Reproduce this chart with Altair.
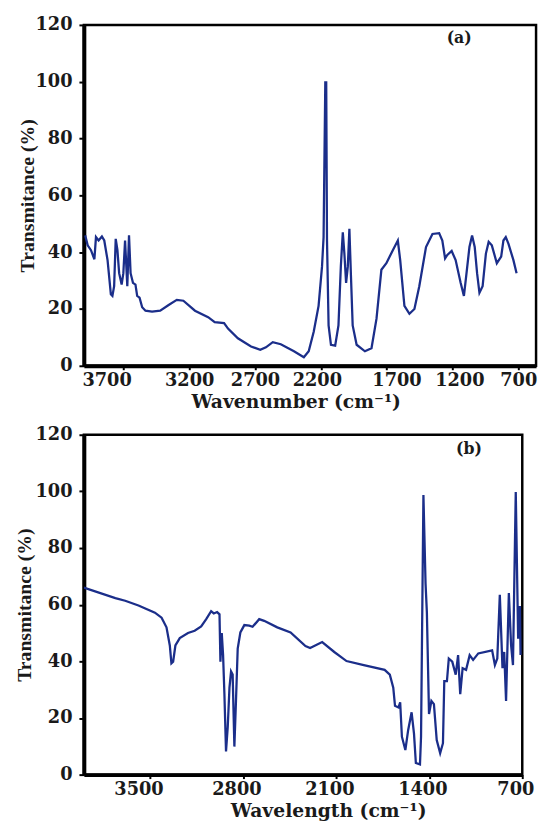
import altair as alt
import pandas as pd

# ---------------- Panel (a) ----------------
a_wavenumber = [3990, 3971, 3946, 3920, 3908, 3888, 3863, 3845, 3820, 3795, 3783, 3770,
                3758, 3745, 3732, 3713, 3700, 3687, 3670, 3657, 3645, 3627, 3608, 3595,
                3577, 3557, 3532, 3482, 3420, 3356, 3294, 3244, 3156, 3056, 3006, 2935,
                2905, 2830, 2730, 2660, 2617, 2565, 2504, 2404, 2329, 2292, 2254, 2217,
                2191, 2179, 2166, 2159, 2153, 2141, 2123, 2091, 2066, 2048, 2033, 2021,
                2008, 1995, 1983, 1971, 1958, 1928, 1865, 1815, 1777, 1740, 1702, 1653,
                1615, 1597, 1565, 1527, 1489, 1452, 1401, 1352, 1301, 1277, 1256, 1239,
                1206, 1176, 1138, 1113, 1096, 1071, 1051, 1031, 1013, 995, 971, 946,
                925, 901, 863, 830, 813, 795, 775, 737, 713]
a_transmittance = [45.9, 42.4, 40.7, 37.5, 45.3, 44.1, 45.5, 44.1, 37.2, 25.2, 24.6, 28.0,
                   44.7, 40.7, 32.6, 28.6, 32.6, 44.1, 28.0, 45.9, 32.6, 29.2, 28.6, 24.6,
                   24.0, 20.6, 19.4, 19.1, 19.4, 21.4, 23.2, 22.9, 19.4, 17.1, 15.4, 15.0,
                   13.1, 9.7, 6.8, 5.6, 6.5, 8.3, 7.6, 5.1, 3.0, 5.1, 12.0, 21.1,
                   34.9, 45.3, 99.8, 99.8, 44.1, 14.2, 7.4, 7.1, 14.2, 34.9, 47.0, 39.5,
                   29.2, 34.9, 48.2, 31.5, 14.2, 7.4, 5.1, 6.2, 16.6, 33.8, 36.1, 40.7,
                   44.1, 37.2, 21.1, 18.3, 20.0, 28.0, 41.8, 46.4, 46.7, 44.1, 37.8, 39.0,
                   40.4, 37.2, 29.2, 24.6, 31.5, 41.8, 45.9, 41.8, 32.6, 25.7, 28.0, 39.5,
                   43.6, 42.4, 36.1, 38.4, 44.1, 45.3, 43.0, 37.2, 32.6]
a_x_ticks = [3700, 3200, 2700, 2200, 1700, 1200, 700]

# ---------------- Panel (b) ----------------
b_wavenumber = [4000, 3763, 3689, 3589, 3465, 3415, 3378, 3353, 3341, 3328, 3311, 3278,
                3216, 3166, 3117, 3079, 3042, 3022, 2997, 2979, 2972, 2962, 2952, 2942,
                2930, 2917, 2904, 2892, 2880, 2867, 2855, 2842, 2822, 2792, 2755, 2730,
                2680, 2643, 2544, 2444, 2332, 2297, 2206, 2115, 2023, 1893, 1736, 1697,
                1671, 1658, 1632, 1619, 1606, 1580, 1559, 1533, 1515, 1501, 1470, 1462,
                1444, 1428, 1418, 1402, 1384, 1365, 1344, 1318, 1297, 1287, 1267, 1253,
                1227, 1201, 1183, 1167, 1149, 1123, 1096, 1070, 1031, 927, 906, 888,
                869, 849, 836, 822, 801, 784, 770, 749, 731, 718, 713]
b_transmittance = [66.0, 62.3, 61.4, 59.7, 57.2, 55.4, 52.0, 45.6, 39.3, 39.9, 45.6, 48.2,
                   50.0, 50.8, 52.3, 54.9, 57.7, 56.9, 57.4, 56.6, 39.9, 50.0, 42.2, 28.4,
                   8.2, 16.8, 30.7, 36.4, 35.3, 9.9, 26.0, 44.5, 50.2, 52.8, 52.6, 52.2,
                   54.9, 54.3, 52.0, 50.2, 45.4, 44.7, 46.8, 43.3, 40.1, 38.7, 37.0, 35.3,
                   30.7, 24.3, 23.7, 25.5, 13.4, 8.7, 15.7, 22.0, 14.5, 4.1, 3.6, 13.4,
                   98.7, 67.5, 57.2, 21.4, 26.0, 24.9, 12.2, 7.6, 11.1, 33.0, 33.0, 41.0,
                   39.9, 35.3, 42.2, 28.4, 37.6, 37.0, 42.2, 40.5, 42.8, 43.9, 38.7, 41.0,
                   63.5, 37.6, 43.3, 26.0, 64.1, 45.6, 38.7, 99.8, 48.0, 59.5, 42.2]
b_x_ticks = [3500, 2800, 2100, 1400, 700]

y_ticks = [0, 20, 40, 60, 80, 100, 120]

LINE_COLOR = "#1b2e8a"
TXT = "#1a1a1a"
WIDE = "DejaVu Serif"
NARROW = "Liberation Serif"


def panel(wn, tr, domain, width, height, xticks, xtitle, label_offset, title_x,
          ytitle_x, tag, tag_x, tag_y):
    df = pd.DataFrame({"wn": wn, "tr": tr})
    x_axis = alt.Axis(
        values=xticks, title=xtitle, grid=False, labelFlush=False, format="d",
        labelFont=WIDE, labelFontWeight="bold", labelFontSize=18, labelColor=TXT,
        labelPadding=2, labelOffset=label_offset,
        tickSize=4, tickWidth=2, tickColor="black",
        domainWidth=4, domainColor="black",
        titleFont=WIDE, titleFontWeight="bold", titleFontSize=19, titleColor=TXT,
        titlePadding=3, titleX=title_x,
    )
    y_axis = alt.Axis(
        values=y_ticks, title="Transmitance (%)", grid=False, format="d",
        labelFont=WIDE, labelFontWeight="bold", labelFontSize=18, labelColor=TXT,
        labelPadding=7, tickSize=5, tickWidth=2, tickColor="black",
        domainWidth=4, domainColor="black",
        titleFont=NARROW, titleFontWeight="bold", titleFontSize=20, titleColor=TXT,
        titleX=ytitle_x,
    )
    line = alt.Chart(df).mark_line(color=LINE_COLOR, strokeWidth=2.3, clip=True).encode(
        x=alt.X("wn:Q", scale=alt.Scale(domain=domain, nice=False, zero=False), axis=x_axis),
        y=alt.Y("tr:Q", scale=alt.Scale(domain=[0, 120], nice=False), axis=y_axis),
    )
    label = alt.Chart(pd.DataFrame({"t": [tag]})).mark_text(
        font=WIDE, fontWeight="bold", fontSize=16, color=TXT
    ).encode(text="t:N", x=alt.value(tag_x), y=alt.value(tag_y))
    return alt.layer(line, label).properties(width=width, height=height)


top = panel(
    a_wavenumber, a_transmittance, [4000, 565], 459, 346, a_x_ticks,
    "Wavenumber (cm⁻¹)",
    {"condition": [
        {"test": "datum.value == 3700", "value": -17},
        {"test": "datum.value == 1700", "value": 10},
        {"test": "datum.value == 1200", "value": 7},
        {"test": "datum.value == 2200", "value": -4},
    ], "value": 0},
    215, -47, "(a)", 381, 13,
)
bottom = panel(
    b_wavenumber, b_transmittance, [4000, 700], 445, 345, b_x_ticks,
    "Wavelength (cm⁻¹)",
    {"condition": [{"test": "datum.value == 3500", "value": -12}], "value": -7},
    248, -50, "(b)", 391, 15,
)

chart = alt.vconcat(top, bottom, spacing=11).properties(
    padding={"left": 5, "top": 0, "right": 2, "bottom": 0}
).configure_view(stroke="black", strokeWidth=2.5)

chart.save("out.html", embed_options={"renderer": "svg", "actions": False})
